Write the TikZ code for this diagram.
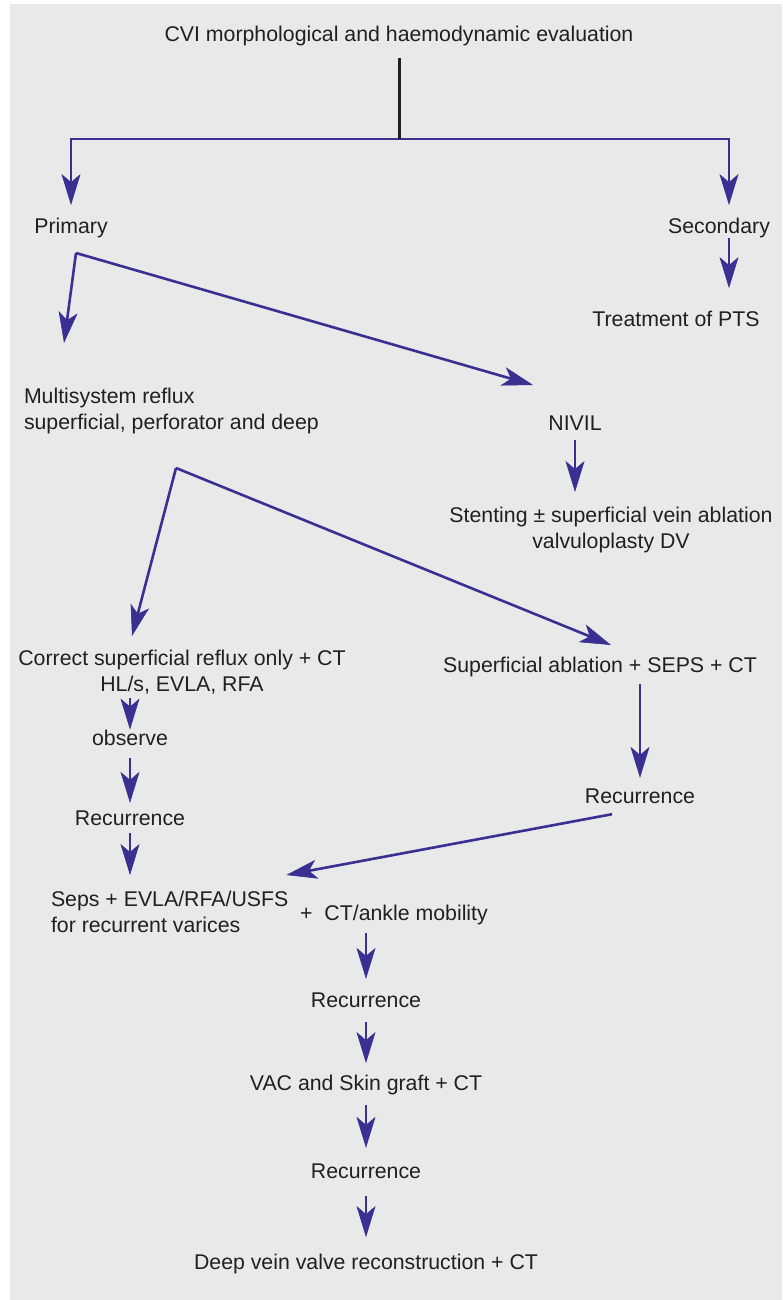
\documentclass[tikz,border=0pt]{standalone}
\usepackage{fontspec}
\setmainfont{Liberation Sans}
\usetikzlibrary{arrows.meta}
\definecolor{panel}{RGB}{232,233,233}
\definecolor{flow}{RGB}{58,48,146}
\definecolor{ink}{RGB}{35,31,32}
\tikzset{
  entry/.style = {inner sep=0pt, outer sep=0pt, text=ink, font=\fontsize{21.3}{26}\selectfont},
  arrow/.style = {draw=flow, line width=2.6pt, -{Stealth[length=31pt, width=19pt, inset=8pt, line width=0.6pt]}},
  stem/.style = {draw=ink, line width=3pt},
}

\begin{document}
\begin{tikzpicture}[x=1pt, y=-1pt]

  \fill [white] (0,0) rectangle (782,1300);
  \fill [panel] (10,4) rectangle (782,1300);

  \node (title) [entry, anchor=base] at (399,41.5) {CVI morphological and haemodynamic evaluation};
  \node (primary) [entry, anchor=base] at (71,233.5) {Primary};
  \node (secondary) [entry, anchor=base] at (719,233.5) {Secondary};
  \node (pts) [entry, anchor=base] at (676,326.5) {Treatment of PTS};
  \node (multi) [entry, anchor=north west, align=left] at (24,388.5) {Multisystem reflux\\superficial, perforator and deep};
  \node (nivil) [entry, anchor=base] at (575,430.5) {NIVIL};
  \node (stent) [entry, anchor=north, align=center] at (611,507.5) {Stenting ± superficial vein ablation\\valvuloplasty DV};
  \node (correct) [entry, anchor=north, align=center] at (182,650.5) {Correct superficial reflux only + CT\\HL/s, EVLA, RFA};
  \node (supabl) [entry, anchor=base] at (600,672.5) {Superficial ablation + SEPS + CT};
  \node (observe) [entry, anchor=base] at (130,745) {observe};
  \node (rec1) [entry, anchor=base] at (130,825.5) {Recurrence};
  \node (rec2) [entry, anchor=base] at (640,803.5) {Recurrence};
  \node (seps) [entry, anchor=north west, align=left] at (51,891.5) {Seps + EVLA/RFA/USFS\\for recurrent varices};
  \node (ankle) [entry, anchor=base] at (394,920.5) {+\ \ CT/ankle mobility};
  \node (rec3) [entry, anchor=base] at (366,1007.5) {Recurrence};
  \node (vac) [entry, anchor=base] at (366,1090.5) {VAC and Skin graft + CT};
  \node (rec4) [entry, anchor=base] at (366,1178.5) {Recurrence};
  \node (deep) [entry, anchor=base] at (366,1269.5) {Deep vein valve reconstruction + CT};

  \coordinate (split) at (399,139);
  \coordinate (rdrop) at ([xshift=10pt]secondary.north);
  \coordinate (rfoot) at ([xshift=10pt]secondary.south);
  \coordinate (pfork) at (76,253);
  \coordinate (tomulti) at (64,343);
  \coordinate (tonivil) at (533,385);
  \coordinate (mfork) at (176,468);
  \coordinate (tocorrect) at (132,636);
  \coordinate (tosupabl) at (611,645);

  \draw [arrow, shorten >=13pt] (split) -| (primary.north);
  \draw [arrow, shorten >=13pt] (split) -| (rdrop);
  \draw [stem, shorten <=12pt] (title.south) -- (split);
  \draw [arrow, shorten >=23pt] (rfoot) -- (rfoot |- pts.north);
  \draw [arrow] (pfork) -- (tomulti);
  \draw [arrow] (pfork) -- (tonivil);
  \draw [arrow, shorten <=9.5pt, shorten >=15.5pt] (nivil.south) -- (nivil.south |- stent.north);
  \draw [arrow] (mfork) -- (tocorrect);
  \draw [arrow] (mfork) -- (tosupabl);
  \draw [arrow, shorten <=3pt] (observe.north |- correct.south) -- (observe.north);
  \draw [arrow, shorten <=13pt, shorten >=8pt] (rec1.north |- observe.south) -- (rec1.north);
  \draw [arrow, shorten <=7.5pt, shorten >=16.5pt] (rec1.south) -- (rec1.south |- seps.north);
  \draw [arrow, shorten <=7pt, shorten >=11pt] (rec2.north |- supabl.south) -- (rec2.north);
  \draw [arrow] ([xshift=-28pt, yshift=-10.5pt]rec2.south) -- ([xshift=-2pt, yshift=16.5pt]seps.north east);
  \draw [arrow, shorten <=8pt, shorten >=14pt] (rec3.north |- ankle.south) -- (rec3.north);
  \draw [arrow, shorten <=14.5pt, shorten >=12pt] (rec3.south) -- (vac.north);
  \draw [arrow, shorten <=10pt, shorten >=16pt] (vac.south) -- (rec4.north);
  \draw [arrow, shorten <=17.5pt, shorten >=17pt] (rec4.south) -- (deep.north);

\end{tikzpicture}
\end{document}
